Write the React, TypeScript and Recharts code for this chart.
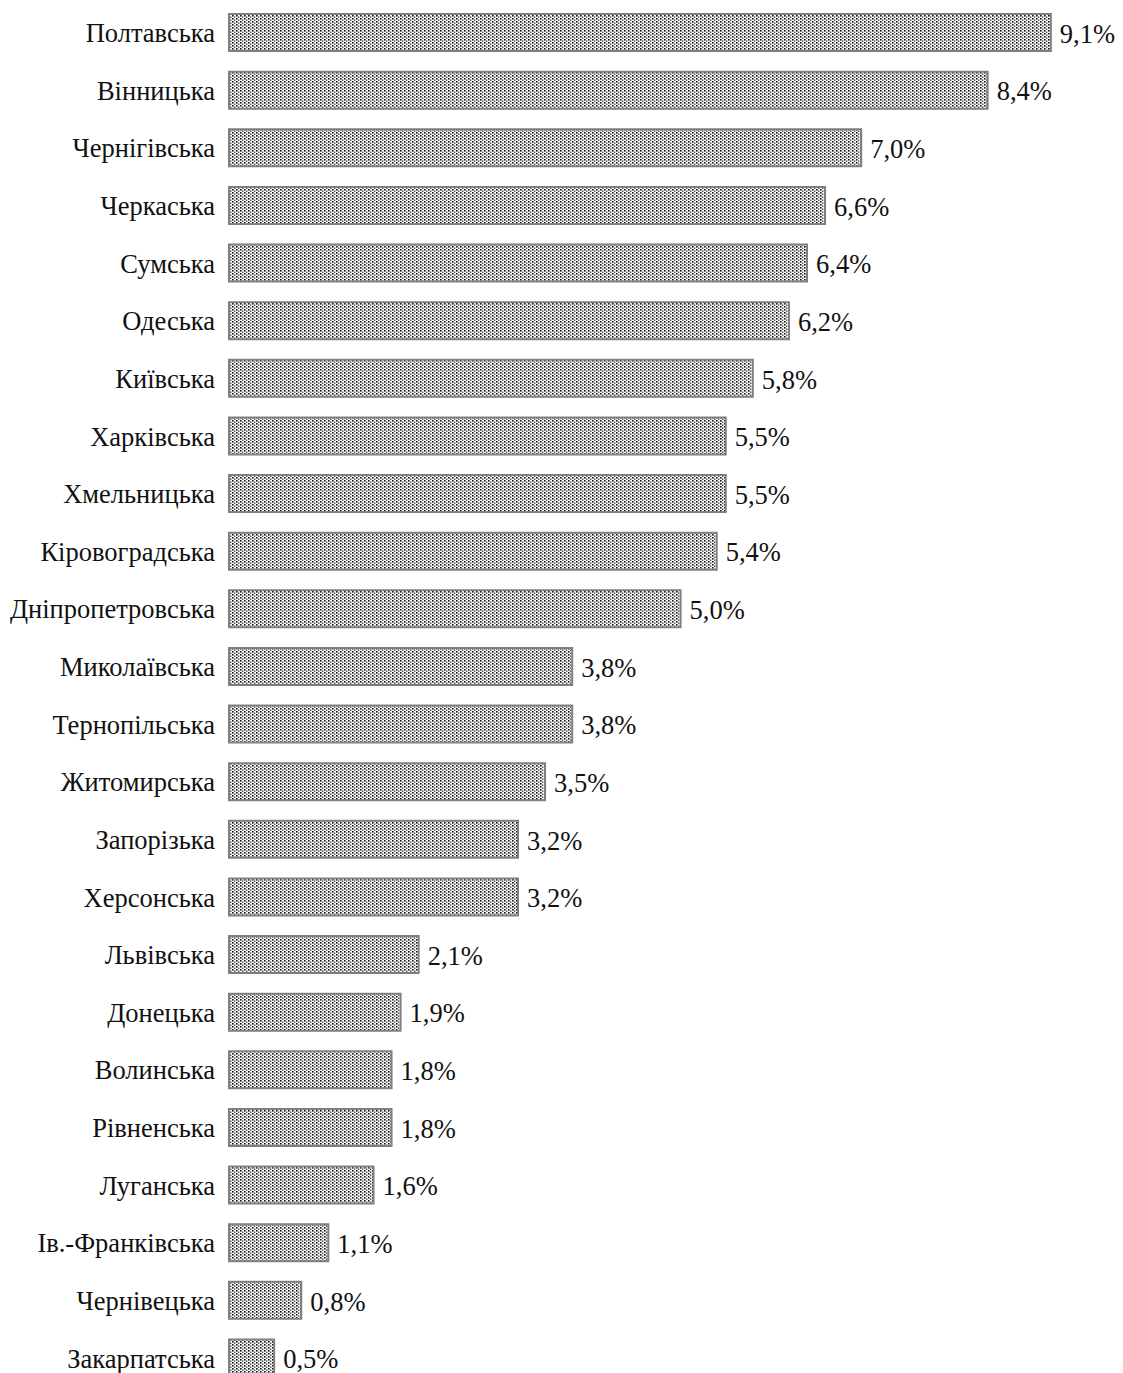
import React from "react";
import { BarChart, Bar, XAxis, YAxis, LabelList } from "recharts";

const regions = [
  "Полтавська",
  "Вінницька",
  "Чернігівська",
  "Черкаська",
  "Сумська",
  "Одеська",
  "Київська",
  "Харківська",
  "Хмельницька",
  "Кіровоградська",
  "Дніпропетровська",
  "Миколаївська",
  "Тернопільська",
  "Житомирська",
  "Запорізька",
  "Херсонська",
  "Львівська",
  "Донецька",
  "Волинська",
  "Рівненська",
  "Луганська",
  "Ів.-Франківська",
  "Чернівецька",
  "Закарпатська",
];

const shares = [
  9.1, 8.4, 7.0, 6.6, 6.4, 6.2, 5.8, 5.5, 5.5, 5.4, 5.0, 3.8, 3.8, 3.5, 3.2, 3.2,
  2.1, 1.9, 1.8, 1.8, 1.6, 1.1, 0.8, 0.5,
];

const data = regions.map((name, i) => ({ name, value: shares[i] }));

const FONT = "'Liberation Serif', 'Times New Roman', serif";

const fmt = (v: number) => v.toFixed(1).replace(".", ",") + "%";

const ValueLabel = (props: any) => {
  const { x, y, width, height, value } = props;
  return (
    <text
      x={x + width + 9}
      y={y + height / 2 + 1}
      dy="0.35em"
      textAnchor="start"
      fontFamily={FONT}
      fontSize={26.5}
      fill="#111"
    >
      {fmt(Number(value))}
    </text>
  );
};

export default function App() {
  return (
    <div
      style={{
        position: "absolute",
        top: 0,
        left: 0,
        width: 1123,
        height: 1373,
        overflow: "hidden",
        background: "#fff",
      }}
    >
      <BarChart
        width={1123}
        height={1387}
        data={data}
        layout="vertical"
        margin={{ top: 4, right: 36, bottom: 0, left: 0 }}
        barSize={37}
      >
        <defs>
          <pattern id="dots" width="4" height="3" patternUnits="userSpaceOnUse">
            <rect width="4" height="3" fill="#ffffff" />
            <rect x="0" y="0" width="1.6" height="1.6" fill="#111" />
            <rect x="2" y="1.5" width="1.4" height="1.4" fill="#444" />
          </pattern>
        </defs>
        <XAxis type="number" domain={[0, 9.5]} hide />
        <YAxis
          type="category"
          dataKey="name"
          width={229}
          axisLine={false}
          tickLine={false}
          tickSize={0}
          tickMargin={14}
          interval={0}
          tick={{ fontFamily: FONT, fontSize: 26.5, fill: "#111" }}
        />
        <Bar
          dataKey="value"
          fill="url(#dots)"
          stroke="#808080"
          strokeWidth={2}
          isAnimationActive={false}
        >
          <LabelList dataKey="value" content={ValueLabel} />
        </Bar>
      </BarChart>
    </div>
  );
}
